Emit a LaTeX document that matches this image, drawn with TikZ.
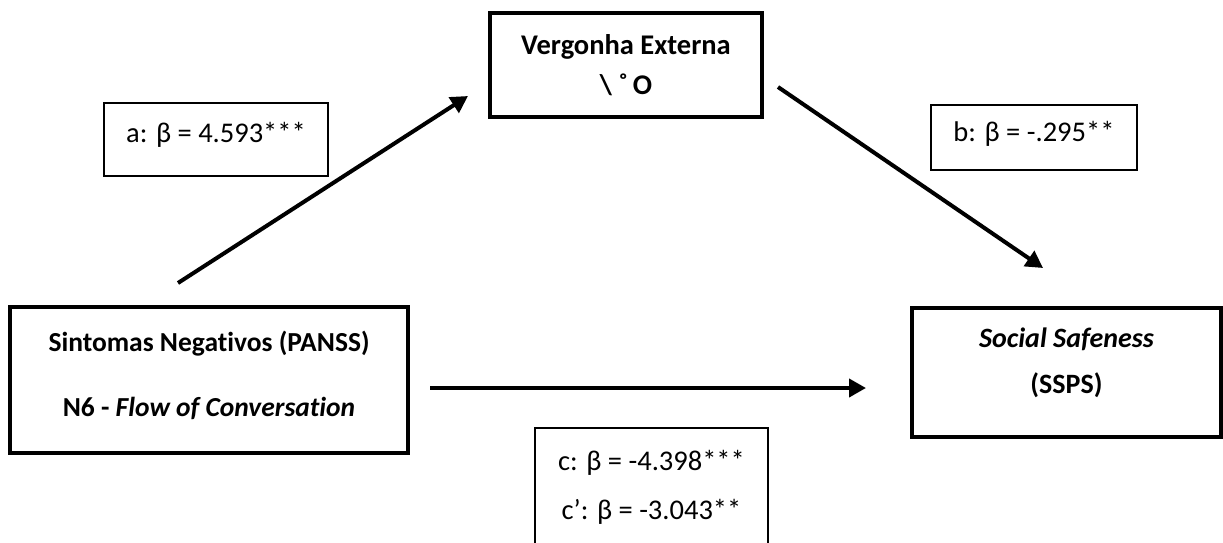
\documentclass[tikz,border=0pt]{standalone}
\usepackage{fontspec}
\setmainfont{Carlito}[Ligatures={NoCommon}]
\usetikzlibrary{arrows.meta}
\newcommand{\dpfix}[1]{\rule[-#1]{0pt}{#1}}
\begin{document}
\begin{tikzpicture}[x=1pt,y=-1pt,
  mainbox/.style={draw, line width=3.6pt, inner sep=0pt, align=center,
    font=\fontsize{28}{40}\selectfont\bfseries},
  labbox/.style={draw, line width=1.8pt, inner sep=0pt, align=center,
    font=\fontsize{28.5}{49}\selectfont},
  conn/.style={line width=4pt, -{Triangle[length=17pt,width=18pt]}}]
\clip (0,0) rectangle (1223,543);
\fill[white] (0,0) rectangle (1223,543);
% main boxes
\node[mainbox, minimum width=272pt, minimum height=104pt,
  font=\fontsize{28.5}{40}\selectfont\bfseries] (ext) at (626,65)
  {Vergonha Externa\\{\textbackslash}\ ˚\,O};
\node[mainbox, minimum width=398pt, minimum height=146pt,
  font=\fontsize{27.5}{65}\selectfont\bfseries] (neg) at (209,380)
  {Sintomas Negativos (PANSS)\\N6 - \textit{Flow of Conversation}\dpfix{12pt}};
\node[mainbox, minimum width=309pt, minimum height=129pt,
  font=\fontsize{28}{46}\selectfont\bfseries] (ss) at (1066.5,372.5)
  {\textit{Social Safeness}\\(SSPS)\dpfix{24pt}};
% coefficient boxes
\node[labbox, minimum width=224pt, minimum height=73pt] (la) at (216,139.5)
  {a: β = 4.593***\dpfix{14pt}};
\node[labbox, minimum width=206pt, minimum height=65pt] (lb) at (1034,137.5)
  {b: β = -.295**\dpfix{12pt}};
\node[labbox, minimum width=233pt, minimum height=118pt] (lc) at (651.5,487)
  {c: β = -4.398***\\c’: β = -3.043**};
% connector ends
\coordinate (a0) at (178,283);
\coordinate (a1) at (468,96);
\coordinate (b0) at (778,87);
\coordinate (b1) at (1043,268);
\coordinate (c0) at (430,388);
\coordinate (c1) at (866,388);
\draw[conn] (a0) -- (a1);
\draw[conn] (b0) -- (b1);
\draw[conn] (c0) -- (c1);
\end{tikzpicture}
\end{document}
